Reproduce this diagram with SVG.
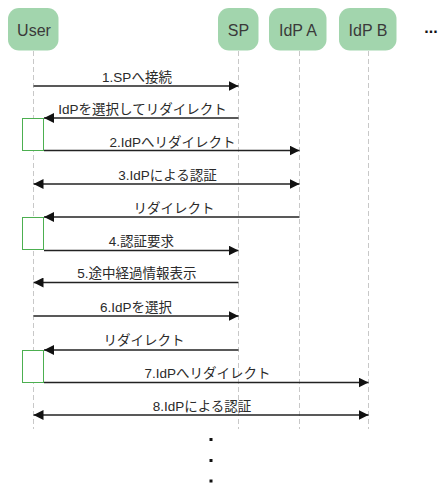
<svg xmlns="http://www.w3.org/2000/svg" width="441" height="488" viewBox="0 0 441 488">
<style>
.node rect{fill:#a2d5ad;}
.node text{font-family:"Liberation Sans",Arial,sans-serif;font-size:16px;fill:#3a3a3a;text-anchor:middle;}
.life{stroke:#c8c8c8;stroke-width:1;stroke-dasharray:5,3;fill:none;}
.msg{stroke:#222;stroke-width:1.3;fill:none;}
.act{fill:#fff;stroke:#4caf50;stroke-width:1;}
.lbl{font-family:"Liberation Sans","Noto Sans CJK JP",sans-serif;font-size:13.5px;fill:#2a2a2a;text-anchor:middle;}
</style>
<defs>
<marker id="ah" viewBox="0 0 10 10" refX="10" refY="5" markerWidth="10" markerHeight="10" markerUnits="userSpaceOnUse" orient="auto-start-reverse">
<path d="M0,0 L10,5 L0,10 Z" fill="#111"/>
</marker>
</defs>
<rect width="441" height="488" fill="#fff"/>
<g id="lifelines">
<line class="life" x1="33.5" y1="51" x2="33.5" y2="429"/>
<line class="life" x1="238.5" y1="51" x2="238.5" y2="429"/>
<line class="life" x1="299.5" y1="51" x2="299.5" y2="429"/>
<line class="life" x1="368.5" y1="51" x2="368.5" y2="429"/>
</g>
<g id="user" class="node"><rect x="8" y="8" width="50.5" height="42.5" rx="11"/><text x="34" y="35.5">User</text></g>
<g id="sp" class="node"><rect x="218" y="8" width="40.5" height="42.5" rx="11"/><text x="238.5" y="35.5">SP</text></g>
<g id="idpa" class="node"><rect x="269" y="8" width="57.5" height="42.5" rx="11"/><text x="298" y="35.5">IdP A</text></g>
<g id="idpb" class="node"><rect x="339" y="8" width="57.5" height="42.5" rx="11"/><text x="368" y="35.5">IdP B</text></g>
<g id="more"><text x="431" y="33" font-family="Liberation Sans,sans-serif" font-size="16" font-weight="bold" fill="#111" text-anchor="middle">...</text></g>
<g id="activations">
<rect class="act" x="22.5" y="118.5" width="21" height="32"/>
<rect class="act" x="22.5" y="217.5" width="21" height="32"/>
<rect class="act" x="22.5" y="350.5" width="21" height="32"/>
</g>
<g id="connectors">
<line class="msg" x1="33.5" y1="86" x2="238.5" y2="86" marker-end="url(#ah)"/>
<line class="msg" x1="238.5" y1="118" x2="44" y2="118" marker-end="url(#ah)"/>
<line class="msg" x1="44" y1="150.5" x2="299.5" y2="150.5" marker-end="url(#ah)"/>
<line class="msg" x1="33.5" y1="184" x2="299.5" y2="184" marker-start="url(#ah)" marker-end="url(#ah)"/>
<line class="msg" x1="299.5" y1="217" x2="44" y2="217" marker-end="url(#ah)"/>
<line class="msg" x1="44" y1="250.5" x2="238.5" y2="250.5" marker-end="url(#ah)"/>
<line class="msg" x1="238.5" y1="282.5" x2="33.5" y2="282.5" marker-end="url(#ah)"/>
<line class="msg" x1="33.5" y1="316" x2="238.5" y2="316" marker-end="url(#ah)"/>
<line class="msg" x1="238.5" y1="350" x2="44" y2="350" marker-end="url(#ah)"/>
<line class="msg" x1="44" y1="382.5" x2="368.5" y2="382.5" marker-end="url(#ah)"/>
<line class="msg" x1="33.5" y1="415" x2="368.5" y2="415" marker-start="url(#ah)" marker-end="url(#ah)"/>
</g>
<g id="labels">
<text class="lbl" x="137" y="81.5">1.SPへ接続</text>
<text class="lbl" x="142.5" y="113.5">IdPを選択してリダイレクト</text>
<text class="lbl" x="172.5" y="146.5">2.IdPへリダイレクト</text>
<text class="lbl" x="167.5" y="179.5">3.IdPによる認証</text>
<text class="lbl" x="174" y="212.5">リダイレクト</text>
<text class="lbl" x="141.5" y="245.5">4.認証要求</text>
<text class="lbl" x="137" y="277.5">5.途中経過情報表示</text>
<text class="lbl" x="136" y="311.5">6.IdPを選択</text>
<text class="lbl" x="144" y="344.5">リダイレクト</text>
<text class="lbl" x="207.5" y="377.5">7.IdPへリダイレクト</text>
<text class="lbl" x="202" y="410.5">8.IdPによる認証</text>
</g>
<g id="ellipsis" fill="#111">
<rect x="209.5" y="438" width="3" height="3"/>
<rect x="209.5" y="459" width="3" height="3"/>
<rect x="209.5" y="479.5" width="3" height="3"/>
</g>
</svg>
